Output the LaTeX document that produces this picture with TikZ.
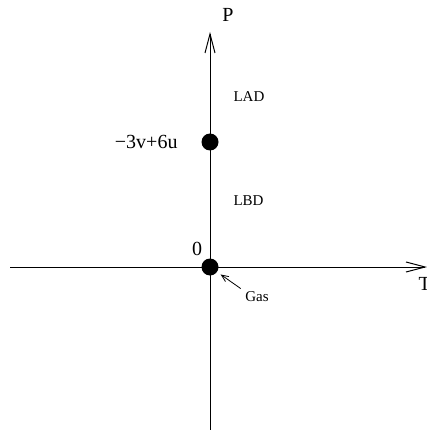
\documentclass[tikz,border=0pt]{standalone}
\usepackage{fontspec}
\setmainfont{Liberation Serif}
\usetikzlibrary{arrows.meta}

\begin{document}
\begin{tikzpicture}[
        x=1pt, y=-1pt,
        line width=1pt,
        >={Straight Barb[length=19pt,width=10pt]},
        % punto del diagramma
        dot/.style={circle, fill=black, minimum size=17pt, inner sep=0pt},
        biglabel/.style={font=\fontsize{20}{24}\selectfont, inner sep=0pt},
        smalllabel/.style={font=\fontsize{15}{17}\selectfont, inner sep=0pt}
    ]
    \useasboundingbox (0,0) rectangle (427,430);

    % --- Assi ---
    \coordinate (Tstart) at (10,267);
    \coordinate (Tend) at (427,267);
    \coordinate (Pstart) at (210,430);
    \coordinate (Pend) at (210,32);
    \draw[->] (Tstart) -- (Tend);
    \draw[->] (Pstart) -- (Pend);
    \node[biglabel] (P) at (228,15) {P};
    \node[biglabel, anchor=west] (T) at (418,284) {T};

    % --- Punti ---
    \node[dot] (O) at (210,267) {};
    \node[dot] (A) at (210,142) {};
    \node[biglabel] (zero) at (197,249) {0};
    \node[biglabel, anchor=east] (Alab) at (178,142) {−3v+6u};

    % --- Regioni ---
    \node[smalllabel, anchor=west] (LAD) at (233,97) {LAD};
    \node[smalllabel, anchor=west] (LBD) at (233,201) {LBD};

    % --- Gas ---
    \node[smalllabel] (gas) at (257,297) {Gas};
    \draw[->, line width=0.8pt, >={Straight Barb[length=7pt,width=6pt]},
        shorten <=5pt, shorten >=4pt] (gas.north west) -- (O);

\end{tikzpicture}
\end{document}
